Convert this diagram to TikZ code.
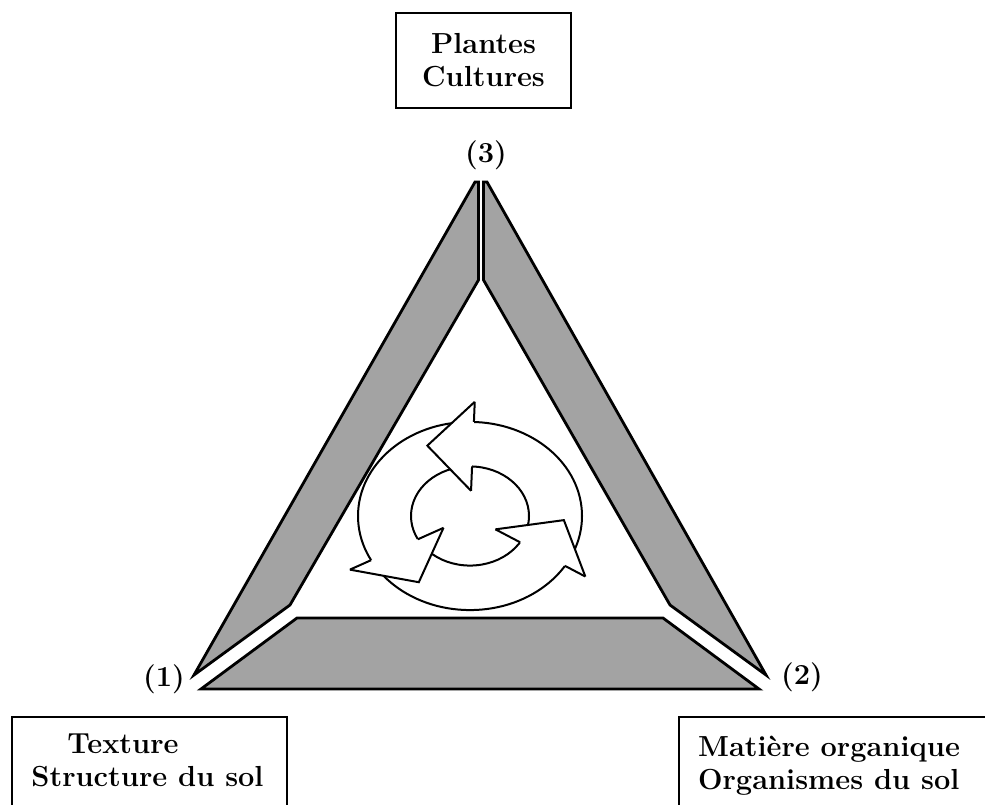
\documentclass[tikz,border=0pt]{standalone}
\begin{document}
\begin{tikzpicture}[x=.5pt,y=.5pt,font=\fontsize{14.5}{16.5}\selectfont\bfseries,
  band/.style={draw,line width=1.4pt,fill=black!36,line join=miter},
  boxed/.style={draw,line width=1.1pt},
  ring/.style={line width=1pt}]
\useasboundingbox (0,0) rectangle (985,804);
\clip (0,0) rectangle (985,804);
% shaded bands along the three sides
\draw[band] (475,622) -- (478.5,622) -- (478.5,524) -- (290,199) -- (194,129) -- cycle;
\draw[band] (483.5,622) -- (487,622) -- (766,129) -- (670,199) -- (483.5,524) -- cycle;
\draw[band] (201,115) -- (759,115) -- (663,186) -- (297,186) -- cycle;
% corner numbers
\node (c3) at (486,649) {(3)};
\node (c1) at (164,125) {(1)};
\node (c2) at (802,127) {(2)};
% the three boxes
\node[boxed,minimum width=87.5pt,minimum height=47.5pt,align=center] (plantes) at (483.5,743.5) {Plantes\\Cultures};
\draw[boxed] (12,87) rectangle (287,-20);
\node[align=left] (texture) at (147.5,44) {\hspace*{18pt}Texture\\Structure du sol};
\draw[boxed] (679,87) rectangle (1000,-20);
\node[align=left] (matiere) at (829,38.5) {Matière organique\\Organismes du sol};
% cycle of three arrows, squashed circle
\begin{scope}[shift={(470,288)},yscale=.84]
\draw[ring] (0,0) circle (112) (0,0) circle (59);
\foreach \a in {88,208,328}{
  \fill[white] (\a:136) -- (\a+29:94) -- (\a:30) -- cycle;
  \draw[ring,line join=miter] (\a:136) -- (\a+29:94) -- (\a:30);
  \draw[ring] (\a:136) -- (\a:112) (\a:59) -- (\a:30);
}
\end{scope}
\end{tikzpicture}
\end{document}
